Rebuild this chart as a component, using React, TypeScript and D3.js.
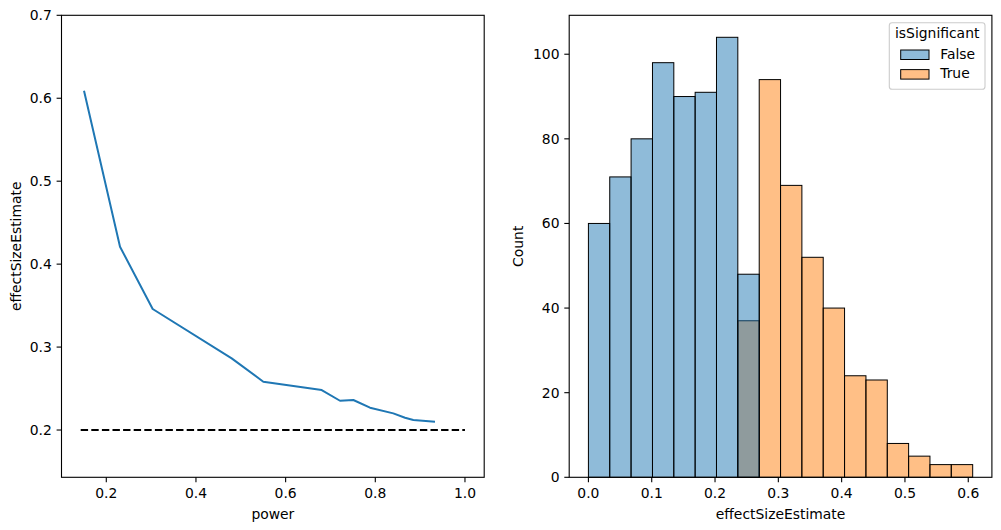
import React from "react";
import * as d3 from "d3";

// left panel: mean effect size estimate of significant results vs power
const power = [0.1503, 0.2306, 0.3035, 0.4797, 0.5502, 0.6805, 0.7213, 0.751, 0.7882, 0.8402, 0.8663, 0.8848, 0.9332];
const effectSize = [0.6091, 0.421, 0.3459, 0.2864, 0.2582, 0.2482, 0.2353, 0.2362, 0.2269, 0.2201, 0.2148, 0.2121, 0.21];
const trueEffect = 0.2;
const refLineX = [0.1429, 1.0];
const leftXTicks = [0.2, 0.4, 0.6, 0.8, 1.0];
const leftYTicks = [0.2, 0.3, 0.4, 0.5, 0.6, 0.7];

// right panel: histogram of estimates by significance
const binEdges = [0, 0.0337, 0.0674, 0.1012, 0.1349, 0.1686, 0.2023, 0.236, 0.2698, 0.3035, 0.3372, 0.3709, 0.4046, 0.4384, 0.4721, 0.5058, 0.5395, 0.5732, 0.607];
const countFalse = [60, 71, 80, 98, 90, 91, 104, 48, 0, 0, 0, 0, 0, 0, 0, 0, 0, 0];
const countTrue = [0, 0, 0, 0, 0, 0, 0, 37, 94, 69, 52, 40, 24, 23, 8, 5, 3, 3];
const hueLevels = ["False", "True"];
const hueColors = ["#1f77b4", "#ff7f0e"];
const rightXTicks = [0, 0.1, 0.2, 0.3, 0.4, 0.5, 0.6];
const rightYTicks = [0, 20, 40, 60, 80, 100];

const FONT = "DejaVu Sans";
const FS = 13.9;
const TOP = 15.3;
const BOTTOM = 477.3;
const AX_W = 422.7;
const L1 = 61.5;
const L2 = 569.2;

export default function App() {
  const x1 = d3.scaleLinear().domain([0.1001, 1.0429]).range([L1, L1 + AX_W]);
  const y1 = d3.scaleLinear().domain([0.143, 0.7]).range([BOTTOM, TOP]);
  const x2 = d3.scaleLinear().domain([-0.03035, 0.63735]).range([L2, L2 + AX_W]);
  const y2 = d3.scaleLinear().domain([0, 109.2]).range([BOTTOM, TOP]);

  const line = d3
    .line<number>()
    .x((_, i) => x1(power[i]))
    .y((d) => y1(d));

  const bars = (counts: number[], color: string, key: string) =>
    counts.map((c, i) =>
      c > 0 ? (
        <rect
          key={`${key}-${i}`}
          x={x2(binEdges[i])}
          y={y2(c)}
          width={x2(binEdges[i + 1]) - x2(binEdges[i])}
          height={y2(0) - y2(c)}
          fill={color}
          fillOpacity={0.5}
          stroke="#000"
          strokeWidth={1}
        />
      ) : null
    );

  const fmt1 = d3.format(".1f");

  return (
    <svg width={1001} height={530} style={{ position: "absolute", left: 0, top: 0 }} fontFamily={FONT} fontSize={FS}>
      <rect width={1001} height={530} fill="#fff" />

      {/* left panel */}
      <g clipPath="url(#clipL)">
        <path d={line(effectSize) ?? undefined} fill="none" stroke="#1f77b4" strokeWidth={2} strokeLinejoin="round" />
        <line
          x1={x1(refLineX[0])}
          x2={x1(refLineX[1])}
          y1={y1(trueEffect)}
          y2={y1(trueEffect)}
          stroke="#000"
          strokeWidth={2}
          strokeDasharray="7.4,3.2"
        />
      </g>
      <rect x={L1} y={TOP} width={AX_W} height={BOTTOM - TOP} fill="none" stroke="#000" strokeWidth={1.1} />
      {leftXTicks.map((t) => (
        <g key={t} transform={`translate(${x1(t)},${BOTTOM})`}>
          <line y2={4.9} stroke="#000" strokeWidth={1.1} />
          <text y={21} textAnchor="middle">{fmt1(t)}</text>
        </g>
      ))}
      {leftYTicks.map((t) => (
        <g key={t} transform={`translate(${L1},${y1(t)})`}>
          <line x2={-4.9} stroke="#000" strokeWidth={1.1} />
          <text x={-9.7} dy="0.36em" textAnchor="end">{fmt1(t)}</text>
        </g>
      ))}
      <text x={L1 + AX_W / 2} y={519} textAnchor="middle">power</text>
      <text transform={`translate(21,${(TOP + BOTTOM) / 2}) rotate(-90)`} textAnchor="middle">effectSizeEstimate</text>

      {/* right panel */}
      {bars(countTrue, hueColors[1], "t")}
      {bars(countFalse, hueColors[0], "f")}
      <rect x={L2} y={TOP} width={AX_W} height={BOTTOM - TOP} fill="none" stroke="#000" strokeWidth={1.1} />
      {rightXTicks.map((t) => (
        <g key={t} transform={`translate(${x2(t)},${BOTTOM})`}>
          <line y2={4.9} stroke="#000" strokeWidth={1.1} />
          <text y={21} textAnchor="middle">{fmt1(t)}</text>
        </g>
      ))}
      {rightYTicks.map((t) => (
        <g key={t} transform={`translate(${L2},${y2(t)})`}>
          <line x2={-4.9} stroke="#000" strokeWidth={1.1} />
          <text x={-9.7} dy="0.36em" textAnchor="end">{t}</text>
        </g>
      ))}
      <text x={L2 + AX_W / 2} y={519} textAnchor="middle">effectSizeEstimate</text>
      <text transform={`translate(523,${(TOP + BOTTOM) / 2}) rotate(-90)`} textAnchor="middle">Count</text>

      {/* legend */}
      <g>
        <rect x={889.3} y={22.7} width={95.7} height={66.6} rx={2.8} fill="#fff" fillOpacity={0.8} stroke="#cccccc" strokeWidth={1.1} />
        <text x={937.2} y={38.3} textAnchor="middle">isSignificant</text>
        {hueLevels.map((h, i) => (
          <g key={h} transform={`translate(900.7,${50 + i * 19.6})`}>
            <rect width={28.3} height={9.5} fill={hueColors[i]} fillOpacity={0.5} stroke="#000" strokeWidth={1} />
            <text x={39.5} y={8.6}>{h}</text>
          </g>
        ))}
      </g>

      <defs>
        <clipPath id="clipL">
          <rect x={L1} y={TOP} width={AX_W} height={BOTTOM - TOP} />
        </clipPath>
      </defs>
    </svg>
  );
}
